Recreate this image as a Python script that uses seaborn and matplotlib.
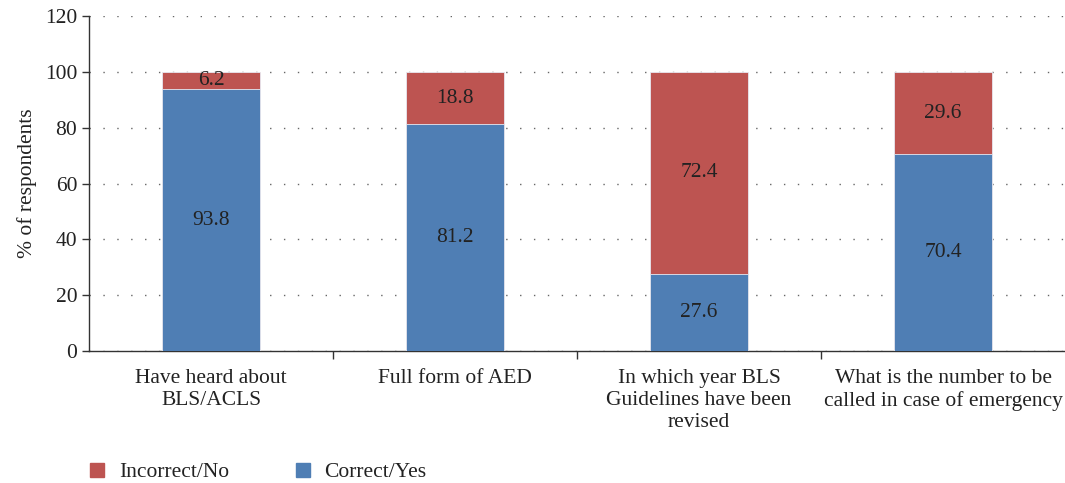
import matplotlib
matplotlib.use("Agg")
import matplotlib.pyplot as plt
import seaborn as sns
import pandas as pd
import numpy as np

# data
questions = [
    "Have heard about\nBLS/ACLS",
    "Full form of AED",
    "In which year BLS\nGuidelines have been\nrevised",
    "What is the number to be\ncalled in case of emergency",
]
correct_yes = [93.8, 81.2, 27.6, 70.4]
incorrect_no = [6.2, 18.8, 72.4, 29.6]

BLUE = "#4F7EB4"
RED = "#BD5451"
FS = 15.5

sns.set_style("ticks")
plt.rcParams["font.family"] = ["Liberation Serif", "DejaVu Serif"]

df = pd.DataFrame({
    "question": questions,
    "correct": correct_yes,
    "incorrect": incorrect_no,
})
df["total"] = df["correct"] + df["incorrect"]

fig = plt.figure(figsize=(10.65, 4.83), dpi=100)
ax = fig.add_axes([0.0836, 0.273, 0.9164, 0.694])

# stacked: full height in red, correct part in blue over it
sns.barplot(data=df, x="question", y="total", color=RED, width=0.4,
            saturation=1, edgecolor="#E8E8F0", linewidth=0.6, ax=ax, zorder=3)
sns.barplot(data=df, x="question", y="correct", color=BLUE, width=0.4,
            saturation=1, edgecolor="#E8E8F0", linewidth=0.6, ax=ax, zorder=4)

for i, row in df.iterrows():
    ax.text(i, row["correct"] / 2, f"{row['correct']:.1f}", ha="center",
            va="center", fontsize=FS, color="#222222", zorder=5)
    ax.text(i, row["correct"] + row["incorrect"] / 2, f"{row['incorrect']:.1f}",
            ha="center", va="center", fontsize=FS, color="#222222", zorder=5)

ax.set_xlim(-0.5, 3.5)
ax.set_ylim(0, 120)
ax.set_yticks(np.arange(0, 121, 20))
ax.set_ylabel("% of respondents", fontsize=FS, color="#222222", labelpad=6)
ax.set_xlabel("")

ax.yaxis.grid(True, linestyle=(0, (1, 9)), color="#666666", linewidth=1)
ax.set_axisbelow(True)

ax.set_xticks(range(len(questions)))
ax.set_xticklabels(questions, fontsize=FS, color="#222222", linespacing=1.22)
ax.set_xticks([0.5, 1.5, 2.5], minor=True)
ax.tick_params(axis="x", which="major", length=0, pad=13)
ax.tick_params(axis="x", which="minor", length=6, width=1, color="#333333")
ax.tick_params(axis="y", length=5, width=1, color="#333333", labelsize=FS,
               labelcolor="#222222")

sns.despine(ax=ax)
for s in ("left", "bottom"):
    ax.spines[s].set_color("#333333")
    ax.spines[s].set_linewidth(1)

handles = [
    plt.Rectangle((0, 0), 1, 1, color=RED),
    plt.Rectangle((0, 0), 1, 1, color=BLUE),
]
fig.legend(handles, ["Incorrect/No", "Correct/Yes"], loc="lower left",
           bbox_to_anchor=(0.07, -0.03), ncol=2, frameon=False, fontsize=FS,
           handlelength=0.65, handleheight=0.65, handletextpad=0.7,
           columnspacing=3.1, labelcolor="#222222", borderaxespad=0.3)

fig.savefig("out.png", dpi=100)
